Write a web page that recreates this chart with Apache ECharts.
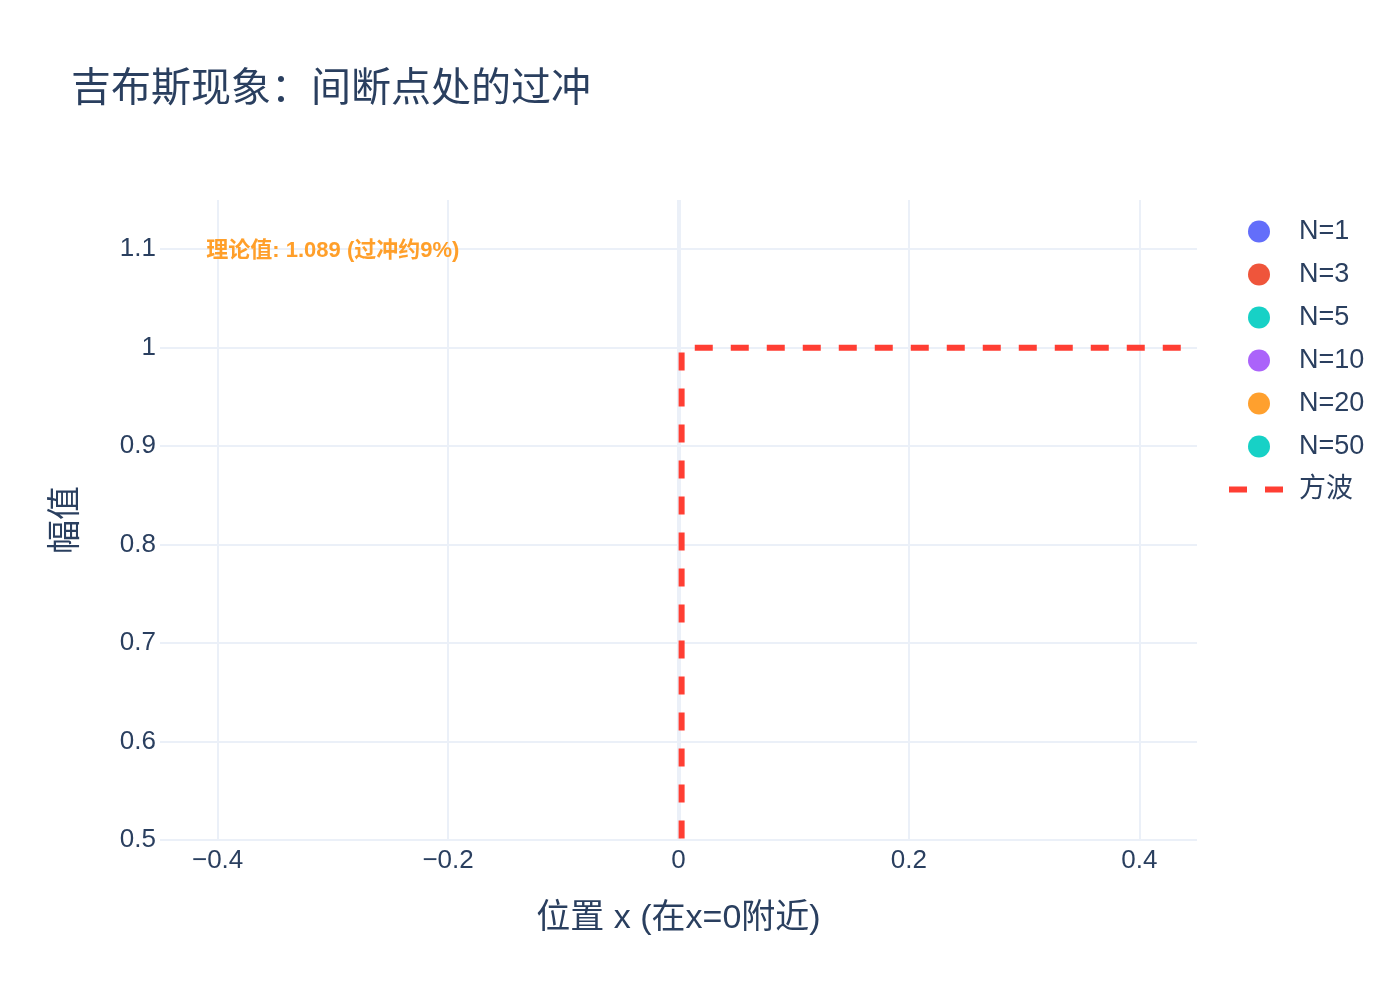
<!DOCTYPE html>
<html>
<head>
<meta charset="utf-8">
<script src="https://cdn.jsdelivr.net/npm/echarts@6/dist/echarts.min.js"></script>
<style>
  html, body { margin: 0; padding: 0; background: #fff; }
  #main { width: 1400px; height: 1000px; }
</style>
</head>
<body>
<div id="main"></div>
<script>
// 数据
var harmonics = ['N=1', 'N=3', 'N=5', 'N=10', 'N=20', 'N=50'];
var harmonicColors = ['#636efa', '#ef553b', '#17d1c6', '#ab63fa', '#ffa02e', '#17d1c6'];
var squareX = [-0.45, 0.0027, 0.0027, 0.45];
var squareY = [-1, -1, 1, 1];
var xTicks = [-0.4, -0.2, 0, 0.2, 0.4];
var yTicks = [0.5, 0.6, 0.7, 0.8, 0.9, 1, 1.1];
var noteX = -0.3, noteY = 1.1;
var noteText = '理论值: 1.089 (过冲约9%)';

var font = '"Liberation Sans", "Noto Sans CJK SC", sans-serif';
var textColor = '#2a3f5f';
var gridColor = '#ebf0f8';
var waveColor = '#ff3e33';

var chart = echarts.init(document.getElementById('main'));

var series = [];
harmonics.forEach(function (name, i) {
  series.push({
    name: name,
    type: 'scatter',
    symbol: 'circle',
    itemStyle: { color: harmonicColors[i], opacity: 1 },
    data: []
  });
});

// 零线
series.push({
  name: 'zeroline',
  type: 'line',
  data: [],
  z: 1,
  silent: true,
  markLine: {
    z: 1,
    silent: true,
    animation: false,
    symbol: 'none',
    label: { show: false },
    lineStyle: { color: gridColor, width: 4, type: 'solid' },
    data: [{ xAxis: 0 }]
  }
});

series.push({
  name: '方波',
  type: 'line',
  symbol: 'none',
  z: 3,
  lineStyle: { color: waveColor, width: 6, type: [18, 18], dashOffset: 16 },
  itemStyle: { color: waveColor },
  data: squareX.map(function (x, i) { return [x, squareY[i]]; })
});

series.push({
  name: 'note',
  type: 'scatter',
  symbolSize: 0.01,
  silent: true,
  itemStyle: { color: 'transparent', opacity: 1 },
  label: {
    show: true,
    position: 'inside',
    offset: [0, 2],
    formatter: noteText,
    color: '#ff9f2a',
    fontSize: 22,
    fontWeight: 'bold',
    fontFamily: font
  },
  data: [[noteX, noteY]]
});

var legendData = harmonics.map(function (n) { return { name: n }; });
legendData.push({
  name: '方波',
  itemStyle: { opacity: 0 },
  lineStyle: { color: waveColor, width: 6, type: [18, 18], dashOffset: 31 }
});

var option = {
  animation: false,
  backgroundColor: '#fff',
  title: {
    text: '吉布斯现象：间断点处的过冲',
    left: 66,
    top: 65,
    textStyle: { color: textColor, fontSize: 40, fontWeight: 'normal', fontFamily: font }
  },
  legend: {
    data: legendData,
    orient: 'vertical',
    left: 1216,
    top: 213,
    itemWidth: 70,
    itemHeight: 22,
    itemGap: 16,
    textStyle: { color: textColor, fontSize: 27, fontFamily: font, lineHeight: 26 }
  },
  grid: { left: 160, right: 203, top: 200, bottom: 160, containLabel: false },
  xAxis: {
    type: 'value',
    min: -0.45,
    max: 0.45,
    name: '位置 x (在x=0附近)',
    nameLocation: 'middle',
    nameGap: 62,
    nameTextStyle: { color: textColor, fontSize: 34, fontFamily: font },
    axisLine: { show: false },
    axisTick: { show: false, customValues: xTicks },
    axisLabel: {
      customValues: xTicks,
      color: textColor, fontSize: 26, fontFamily: font, margin: 8,
      formatter: function (v) { return v < 0 ? '\u2212' + Math.abs(v) : String(v); }
    },
    splitLine: { show: true, lineStyle: { color: gridColor, width: 2 } }
  },
  yAxis: {
    type: 'value',
    min: 0.5,
    max: 1.15,
    name: '幅值',
    nameLocation: 'middle',
    nameGap: 76,
    nameTextStyle: { color: textColor, fontSize: 34, fontFamily: font },
    axisLine: { show: false },
    axisTick: { show: false, customValues: yTicks },
    axisLabel: {
      customValues: yTicks,
      color: textColor, fontSize: 26, fontFamily: font, margin: 4
    },
    splitLine: { show: true, lineStyle: { color: gridColor, width: 2 } }
  },
  series: series
};

chart.setOption(option);
</script>
</body>
</html>
